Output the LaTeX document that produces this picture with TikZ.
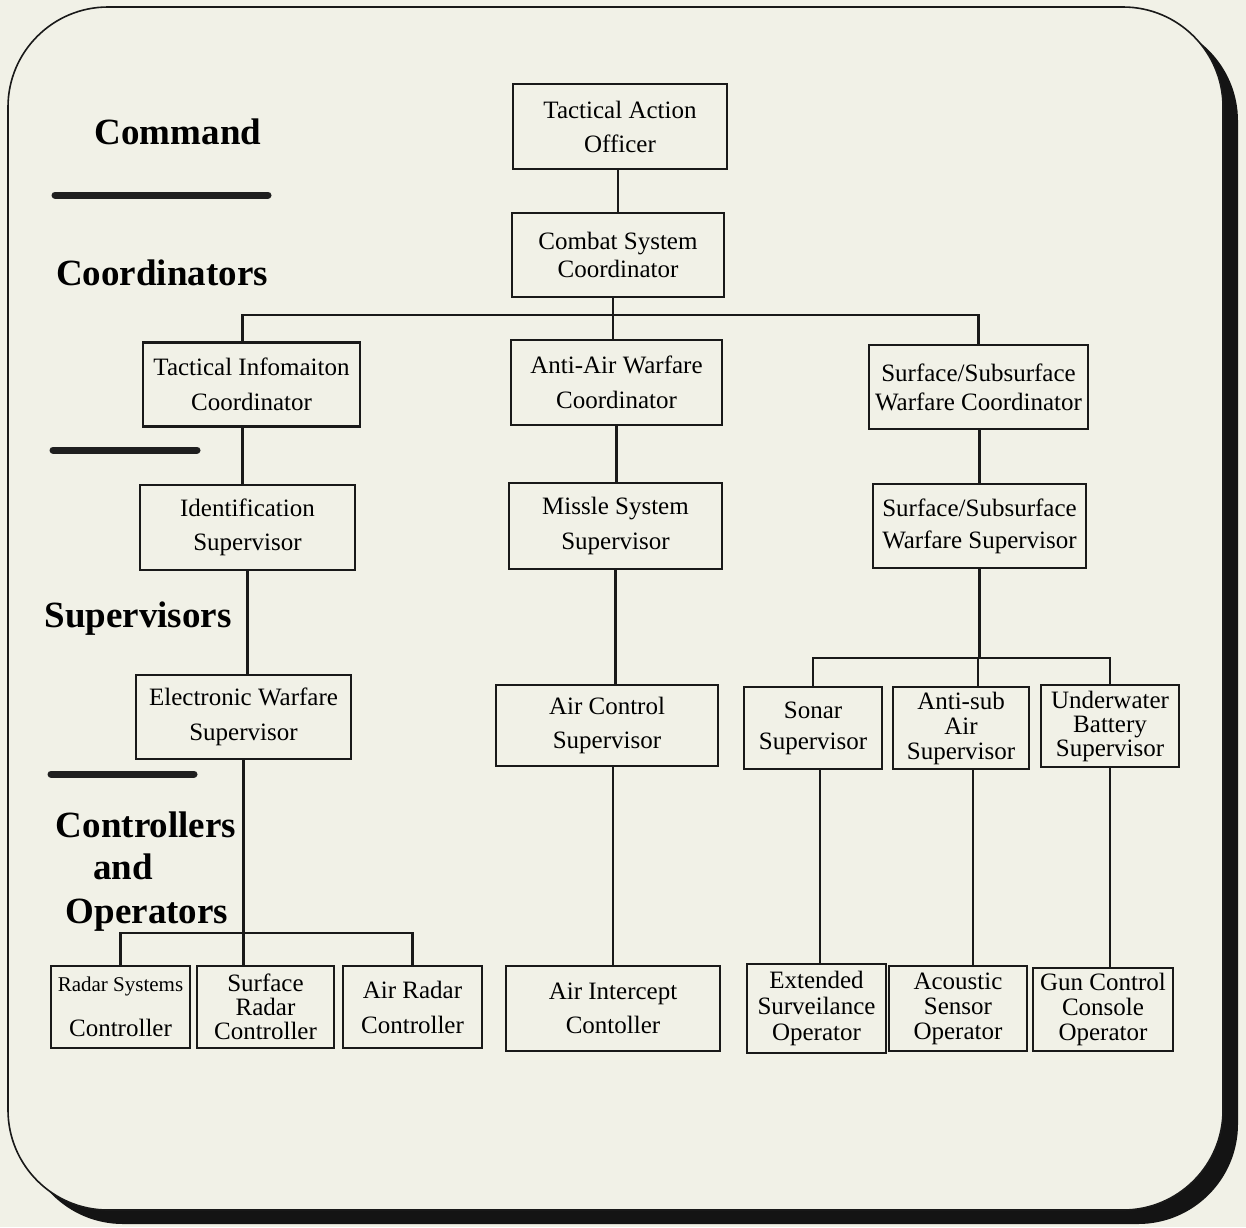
\documentclass[tikz,border=0pt]{standalone}
\usepackage{fontspec}
\setmainfont{Liberation Serif}
\definecolor{paper}{RGB}{241,241,231}
\tikzset{
  unit/.style={draw=black!90, line width=2.4pt, align=center, inner sep=0pt},
  lead/.style={font=\fontsize{25}{#1}\selectfont},
  link/.style={line width=2.2pt, draw=black!90},
  tier/.style={font=\bfseries\fontsize{37}{37}\selectfont, anchor=base},
  tierbar/.style={line width=7pt, line cap=round, draw=black!88},
}

\begin{document}
\begin{tikzpicture}[x=1pt, y=-1pt]
	%%%%% FRAME %%%%%
	\fill[paper] (0,0) rectangle (1246,1227);
	\useasboundingbox (0,0) rectangle (1246,1227);
	\fill[black!92, rounded corners=100pt] (23,21) rectangle (1238,1224);
	\filldraw[fill=paper, draw=black!90, line width=1.6pt, rounded corners=100pt] (8,7) rectangle (1223,1210);
	
	%%%%% TIERS %%%%%
	\node[tier] (tcmd) at (178,144) {Command};
	\draw[tierbar] (55,195) -- (268,195);
	\node[tier] (tcoord) at (162,285) {Coordinators};
	\draw[tierbar] (53,450) -- (197,450);
	\node[tier] (tsup) at (138,627) {Supervisors};
	\draw[tierbar] (51,774) -- (194,774);
	\node[tier] (tctl) at (146,837) {Controllers};
	\node[tier] (tand) at (123,879) {and};
	\node[tier] (topr) at (147,923) {Operators};
	
	%%%%% UNITS %%%%%
	\node[unit, lead=34, minimum width=214, minimum height=85] (tao) at (620,126.5) {Tactical Action\\Officer};
	\node[unit, lead=28, minimum width=212, minimum height=84] (csc) at (618,255) {Combat System\\Coordinator};
	
	\node[unit, lead=35, minimum width=217, minimum height=84] (tic) at (251.5,384.5) {Tactical Infomaiton\\Coordinator};
	\node[unit, lead=35, minimum width=211, minimum height=85] (aaw) at (616.5,382.5) {Anti-Air Warfare\\Coordinator};
	\node[unit, lead=29, minimum width=219, minimum height=84] (sswc) at (978.5,387) {Surface/Subsurface\\Warfare Coordinator};
	
	\node[unit, lead=34, minimum width=215, minimum height=85] (idsup) at (247.5,527.5) {Identification\\Supervisor};
	\node[unit, lead=35, minimum width=213, minimum height=86] (mss) at (615.5,526) {Missle System\\Supervisor};
	\node[unit, lead=32, minimum width=213, minimum height=84] (ssws) at (979.5,526) {Surface/Subsurface\\Warfare Supervisor};
	
	\node[unit, lead=35, minimum width=215, minimum height=84] (ewsup) at (243.5,717) {Electronic Warfare\\Supervisor};
	\node[unit, lead=34, minimum width=222, minimum height=81] (acs) at (607,725.5) {Air Control\\Supervisor};
	\node[unit, lead=31, minimum width=138, minimum height=82] (sonar) at (813,728) {Sonar\\Supervisor};
	\node[unit, lead=25, minimum width=136, minimum height=82] (antisub) at (961,728) {Anti-sub\\Air\\Supervisor};
	\node[unit, lead=24, minimum width=138, minimum height=82] (uwb) at (1110,726) {Underwater\\Battery\\Supervisor};
	
	\node[unit, lead=25, minimum width=139, minimum height=82] (rsc) at (120.5,1007) {{\fontsize{21}{21}\selectfont Radar Systems}\\[20pt]Controller};
	\node[unit, lead=24, minimum width=137, minimum height=82] (src) at (265.5,1007) {Surface\\Radar\\Controller};
	\node[unit, lead=35, minimum width=139, minimum height=82] (arc) at (412.5,1007) {Air Radar\\Controller};
	\node[unit, lead=34, minimum width=214, minimum height=85] (aic) at (613,1008.5) {Air Intercept\\Contoller};
	\node[unit, lead=26, minimum width=139, minimum height=89] (ext) at (816.5,1008.5) {Extended\\Surveilance\\Operator};
	\node[unit, lead=25, minimum width=138, minimum height=85] (acu) at (958,1008.5) {Acoustic\\Sensor\\Operator};
	\node[unit, lead=25, minimum width=140, minimum height=83] (gun) at (1103,1009.5) {Gun Control\\Console\\Operator};
	
	%%%%% LINKS %%%%%
	\coordinate (busC) at (613,315);
	\coordinate (busS) at (977,658);
	\coordinate (busO) at (243,933);
	
	\draw[link] (csc.north) -- (csc.north |- tao.south);
	\draw[link] (csc.south -| busC) -- (aaw.north -| busC);
	\draw[link] ([xshift=-9pt]tic.north) |- (busC) -| (sswc.north);
	
	\draw[link] ([xshift=-9pt]tic.south) -- ([xshift=-9pt]tic.south |- idsup.north);
	\draw[link] (aaw.south) -- (aaw.south |- mss.north);
	\draw[link] (ssws.north) -- (ssws.north |- sswc.south);
	
	\draw[link] (idsup.south) -- (idsup.south |- ewsup.north);
	\draw[link] (mss.south) -- (mss.south |- acs.north);
	\draw[link] (ssws.south) -- (ssws.south |- busS);
	\draw[link] (sonar.north) |- (busS) -| (uwb.north);
	\draw[link] ([xshift=17pt]antisub.north) -- ([xshift=17pt]antisub.north |- busS);
	
	\draw[link] (ewsup.south) -- (ewsup.south |- src.north);
	\draw[link] (rsc.north) |- (busO) -| (arc.north);
	\draw[link] (aic.north) -- (aic.north |- acs.south);
	\draw[link] ([xshift=7pt]sonar.south) -- ([xshift=7pt]sonar.south |- ext.north);
	\draw[link] ([xshift=12pt]antisub.south) -- ([xshift=12pt]antisub.south |- acu.north);
	\draw[link] (uwb.south) -- (uwb.south |- gun.north);
\end{tikzpicture}
\end{document}
